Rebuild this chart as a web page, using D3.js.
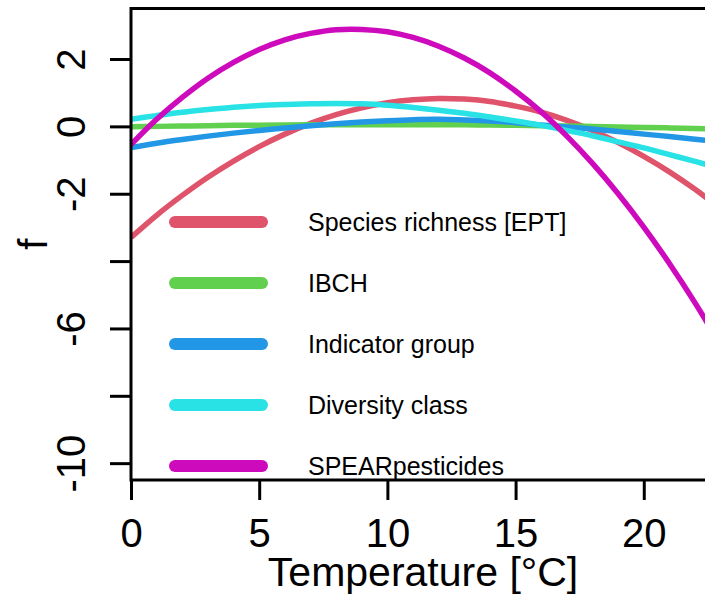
<!DOCTYPE html>
<html>
<head>
<meta charset="utf-8">
<script src="https://cdn.jsdelivr.net/npm/d3@7"></script>
<style>
  html, body { margin: 0; padding: 0; background: #ffffff; }
  svg { display: block; font-family: "Liberation Sans", Arial, sans-serif; }
</style>
</head>
<body>
<svg id="chart" width="705" height="598"></svg>
<script>
// Temperature grid (°C) at which each smooth term is tabulated
const temperature = [0,1,2,3,4,5,6,7,8,9,10,11,12,13,14,15,16,17,18,19,20,21,22,23];

// Estimated partial effect f(Temperature) for each index
const speciesRichnessEPT = [-3.30,-2.64,-2.05,-1.51,-1.03,-0.60,-0.23,0.09,0.35,0.55,0.70,0.79,0.83,0.81,0.74,0.60,0.42,0.18,-0.12,-0.48,-0.89,-1.35,-1.87,-2.45];
const ibch               = [-0.01,0.00,0.01,0.02,0.03,0.035,0.04,0.045,0.05,0.05,0.05,0.05,0.05,0.045,0.04,0.03,0.02,0.01,0.00,-0.015,-0.03,-0.045,-0.06,-0.08];
const indicatorGroup     = [-0.63,-0.50,-0.39,-0.29,-0.20,-0.12,-0.05,0.02,0.08,0.13,0.17,0.20,0.21,0.19,0.16,0.11,0.04,-0.02,-0.08,-0.15,-0.23,-0.30,-0.38,-0.47];
const diversityClass     = [0.21,0.32,0.42,0.50,0.57,0.62,0.65,0.67,0.68,0.67,0.63,0.56,0.48,0.39,0.28,0.16,0.03,-0.12,-0.28,-0.46,-0.64,-0.84,-1.04,-1.25];
const spearPesticides    = [-0.54,0.21,0.86,1.43,1.90,2.28,2.57,2.76,2.87,2.88,2.81,2.64,2.38,2.03,1.59,1.05,0.43,-0.29,-1.10,-2.00,-2.99,-4.07,-5.24,-6.51];

const seriesNames  = ["Species richness [EPT]", "IBCH", "Indicator group", "Diversity class", "SPEARpesticides"];
const seriesValues = [speciesRichnessEPT, ibch, indicatorGroup, diversityClass, spearPesticides];
const seriesColors = ["#DF536B", "#61D04F", "#2297E6", "#28E2E5", "#CD0BBC"];

const xTicks = [0, 5, 10, 15, 20];
const yTicks = [-10, -8, -6, -4, -2, 0, 2];
const yTickLabels = { "-10": "-10", "-6": "-6", "-2": "-2", "0": "0", "2": "2" };

const svg = d3.select("#chart");
const W = 705, H = 598;
const plot = { left: 131, right: 713, top: 8.5, bottom: 480 };

svg.append("rect").attr("width", W).attr("height", H).attr("fill", "#ffffff");

const x = d3.scaleLinear().domain([0, 22.7]).range([plot.left, plot.right]);
const y = d3.scaleLinear().domain([-10.5, 3.5]).range([plot.bottom, plot.top]);

// clip curves to the plotting region
svg.append("defs").append("clipPath").attr("id", "plotClip")
  .append("rect")
  .attr("x", plot.left).attr("y", plot.top)
  .attr("width", plot.right - plot.left).attr("height", plot.bottom - plot.top);

const line = d3.line()
  .x((d, i) => x(temperature[i]))
  .y(d => y(d))
  .curve(d3.curveCatmullRom.alpha(0.5));

const curves = svg.append("g").attr("clip-path", "url(#plotClip)");
seriesValues.forEach((vals, k) => {
  curves.append("path")
    .datum(vals)
    .attr("d", line)
    .attr("fill", "none")
    .attr("stroke", seriesColors[k])
    .attr("stroke-width", 5.5)
    .attr("stroke-linejoin", "round");
});

// plot frame
svg.append("rect")
  .attr("x", plot.left).attr("y", plot.top)
  .attr("width", plot.right - plot.left).attr("height", plot.bottom - plot.top)
  .attr("fill", "none").attr("stroke", "#000").attr("stroke-width", 3);

// x axis
const xAxis = svg.append("g")
  .attr("transform", `translate(0,${plot.bottom})`)
  .call(d3.axisBottom(x).tickValues(xTicks).tickSize(20).tickSizeOuter(0).tickFormat(d => String(d)));
xAxis.select(".domain").remove();
xAxis.selectAll(".tick line").attr("stroke", "#000").attr("stroke-width", 3);
xAxis.selectAll(".tick text")
  .attr("y", 67).attr("dy", null)
  .attr("font-size", 40).attr("fill", "#000")
  .attr("font-family", "Liberation Sans, Arial, sans-serif");

// y axis (labels read bottom to top)
const yAxis = svg.append("g")
  .attr("transform", `translate(${plot.left},0)`)
  .call(d3.axisLeft(y).tickValues(yTicks).tickSize(21).tickSizeOuter(0)
    .tickFormat(d => yTickLabels[String(d)] || ""));
yAxis.select(".domain").remove();
yAxis.selectAll(".tick line").attr("stroke", "#000").attr("stroke-width", 3);
yAxis.selectAll(".tick text")
  .attr("x", null).attr("dy", null)
  .attr("text-anchor", "middle")
  .attr("transform", "translate(-46,0) rotate(-90)")
  .attr("font-size", 40).attr("fill", "#000")
  .attr("font-family", "Liberation Sans, Arial, sans-serif");

// axis titles
svg.append("text")
  .attr("x", 423).attr("y", 586)
  .attr("text-anchor", "middle").attr("font-size", 41).attr("fill", "#000")
  .text("Temperature [°C]");

svg.append("text")
  .attr("transform", `translate(47,${(plot.top + plot.bottom) / 2}) rotate(-90)`)
  .attr("text-anchor", "middle").attr("font-size", 40).attr("fill", "#000")
  .text("f");

// legend
const legend = svg.append("g");
seriesNames.forEach((name, k) => {
  const cy = 222 + k * 61;
  legend.append("line")
    .attr("x1", 175).attr("x2", 262).attr("y1", cy).attr("y2", cy)
    .attr("stroke", seriesColors[k]).attr("stroke-width", 12)
    .attr("stroke-linecap", "round");
  legend.append("text")
    .attr("x", 308).attr("y", cy).attr("dy", "0.36em")
    .attr("font-size", 25).attr("fill", "#000")
    .text(name);
});
</script>
</body>
</html>
